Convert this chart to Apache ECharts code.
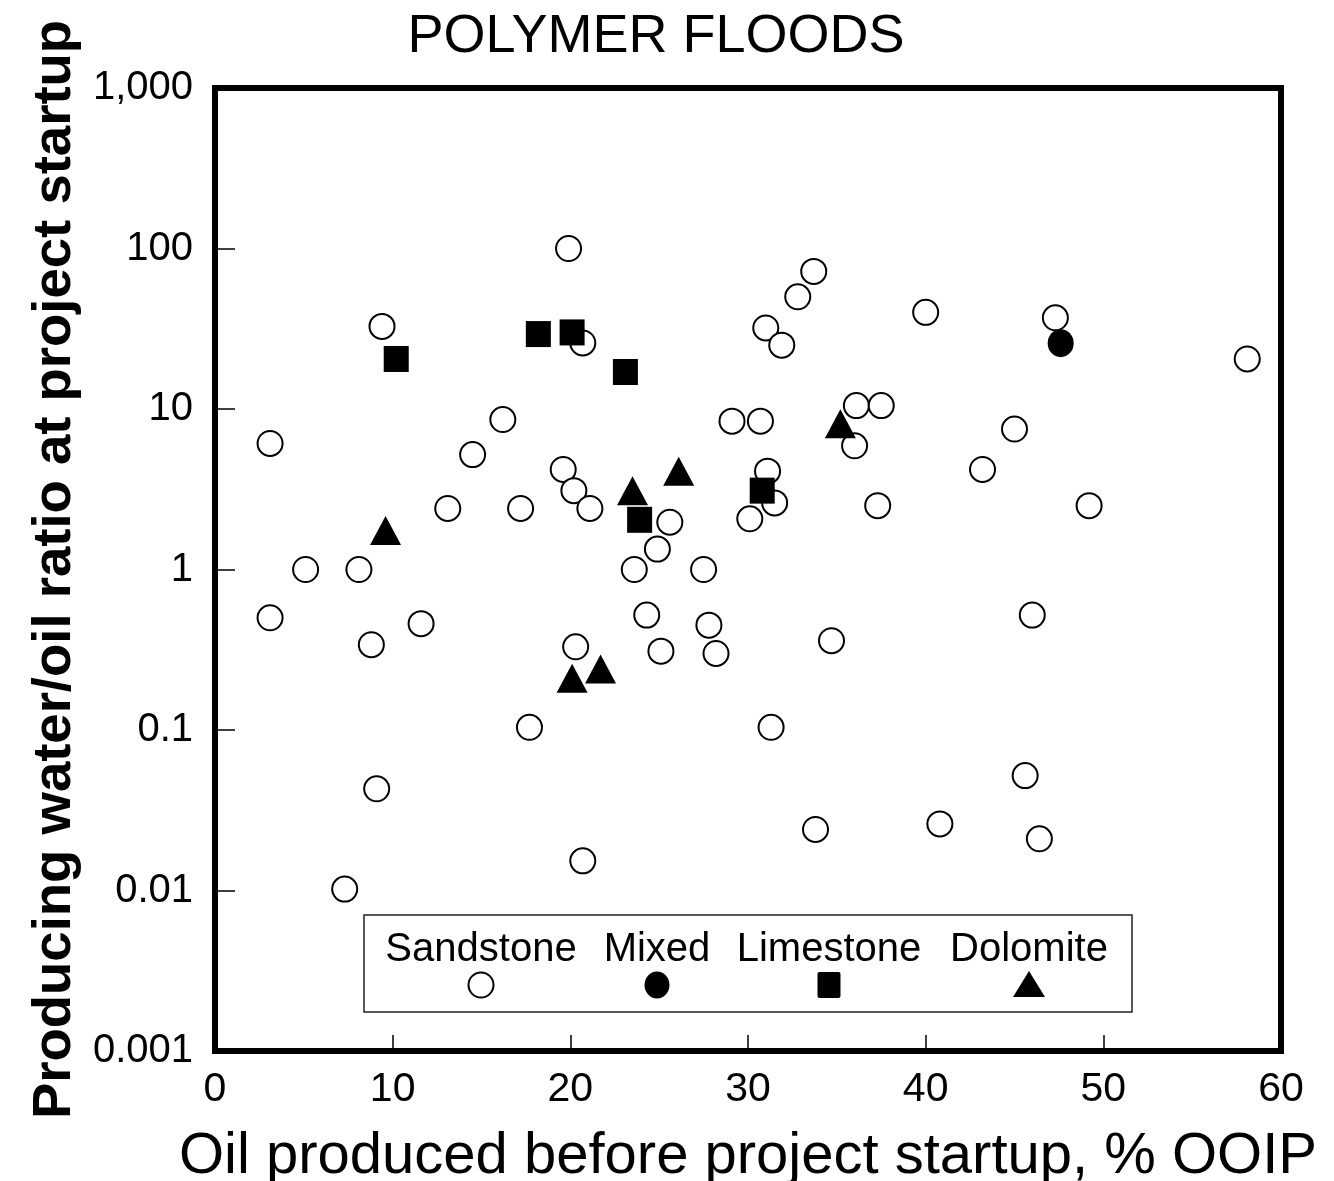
<!DOCTYPE html>
<html>
<head>
<meta charset="utf-8">
<title>Polymer Floods</title>
<script src="https://cdn.jsdelivr.net/npm/echarts@6/dist/echarts.min.js"></script>
<style>
  html, body { margin: 0; padding: 0; background: #fff; }
  #chart { width: 1334px; height: 1181px; }
</style>
</head>
<body>
<div id="chart"></div>
<script>
// Oil produced before project startup (% OOIP) vs. producing water/oil ratio at startup
const sandstoneX = [19.9, 9.4, 20.7, 3.1, 16.2, 14.5, 19.6, 20.2, 13.1, 17.2, 21.1, 25.6, 24.9,
  5.1, 8.1, 23.6, 27.5, 3.1, 11.6, 8.8, 24.3, 27.8, 20.3, 25.1, 28.2,
  33.7, 32.8, 31.0, 31.9, 40.0, 47.3, 58.1, 29.1, 30.7, 36.1, 37.5, 36.0, 45.0, 43.2,
  31.1, 31.5, 30.1, 37.3, 49.2, 46.0, 34.7,
  17.7, 31.3, 9.1, 45.6, 33.8, 40.8, 46.4, 20.7, 7.3];
const sandstoneY = [100, 32.7, 25.8, 6.1, 8.6, 5.2, 4.2, 3.1, 2.4, 2.4, 2.4, 1.97, 1.34,
  1.0, 1.0, 1.0, 1.0, 0.50, 0.46, 0.34, 0.52, 0.45, 0.33, 0.31, 0.30,
  72, 50, 32, 25, 40, 37, 20.5, 8.4, 8.4, 10.5, 10.5, 5.9, 7.5, 4.2,
  4.1, 2.6, 2.07, 2.5, 2.5, 0.52, 0.36,
  0.104, 0.104, 0.043, 0.052, 0.024, 0.026, 0.021, 0.0153, 0.0102];

const mixedX = [47.6];
const mixedY = [25.7];

const limestoneX = [10.2, 18.2, 20.1, 23.1, 23.9, 30.8];
const limestoneY = [20.5, 29.3, 30, 17, 2.04, 3.1];

const dolomiteX = [9.6, 23.5, 26.1, 35.2, 20.1, 21.7];
const dolomiteY = [1.75, 3.1, 4.1, 8.1, 0.21, 0.24];

const xTicks = [0, 10, 20, 30, 40, 50, 60];
const yTickLabels = { 1000: '1,000', 100: '100', 10: '10', 1: '1', 0.1: '0.1', 0.01: '0.01', 0.001: '0.001' };

const FONT = '"Liberation Sans", Arial, Helvetica, sans-serif';
const zip = (xs, ys) => xs.map((x, i) => [x, ys[i]]);

const chart = echarts.init(document.getElementById('chart'), null, { renderer: 'canvas' });

const legendItems = [
  { name: 'Sandstone', x: 481 },
  { name: 'Mixed', x: 657 },
  { name: 'Limestone', x: 829 },
  { name: 'Dolomite', x: 1029 }
];

const graphics = [
  { type: 'rect', shape: { x: 364, y: 915, width: 768, height: 97 },
    style: { fill: '#fff', stroke: '#222', lineWidth: 1.5 }, z: 100 }
];
legendItems.forEach(it => {
  graphics.push({ type: 'text', z: 101,
    style: { text: it.name, x: it.x, y: 950, font: '40px ' + FONT, fill: '#000',
      textAlign: 'center', textVerticalAlign: 'middle' } });
});
graphics.push({ type: 'circle', z: 101, shape: { cx: 481, cy: 985, r: 12.5 },
  style: { fill: '#fff', stroke: '#000', lineWidth: 2 } });
graphics.push({ type: 'ellipse', z: 101, shape: { cx: 657, cy: 985, rx: 12.5, ry: 13.5 },
  style: { fill: '#000' } });
graphics.push({ type: 'rect', z: 101, shape: { x: 817.5, y: 972, width: 23, height: 26, r: 2 },
  style: { fill: '#000' } });
graphics.push({ type: 'polygon', z: 101, shape: { points: [[1029, 971], [1045, 997], [1013, 997]] },
  style: { fill: '#000' } });

chart.setOption({
  backgroundColor: '#fff',
  animation: false,
  title: {
    text: 'POLYMER FLOODS',
    left: 651, top: 5, textAlign: 'center',
    textStyle: { fontFamily: FONT, fontSize: 54, fontWeight: 'normal', color: '#000' }
  },
  grid: {
    left: 215, right: 53, top: 88, bottom: 130,
    outerBoundsMode: 'none', containLabel: false,
    show: true, borderColor: '#000', borderWidth: 6, backgroundColor: 'transparent'
  },
  xAxis: {
    type: 'value', min: 0, max: 60, interval: 10,
    name: 'Oil produced before project startup, % OOIP',
    nameLocation: 'middle', nameGap: 77,
    nameTextStyle: { fontFamily: FONT, fontSize: 58, color: '#000' },
    axisLine: { onZero: false, lineStyle: { color: '#000', width: 6 } },
    axisTick: { inside: true, length: 16, lineStyle: { color: '#000', width: 1.5 } },
    axisLabel: { margin: 18, fontFamily: FONT, fontSize: 41, color: '#000',
      formatter: v => (xTicks.includes(v) ? String(v) : '') },
    splitLine: { show: false }
  },
  yAxis: {
    type: 'log', logBase: 10, min: 0.001, max: 1000,
    name: 'Producing water/oil ratio at project startup',
    nameLocation: 'middle', nameGap: 133,
    nameTextStyle: { fontFamily: FONT, fontSize: 54.5, fontWeight: 'bold', color: '#000' },
    axisLine: { lineStyle: { color: '#000', width: 6 } },
    axisTick: { inside: true, length: 20, lineStyle: { color: '#000', width: 1.5 } },
    axisLabel: { margin: 22, fontFamily: FONT, fontSize: 40, color: '#000',
      formatter: v => {
        const key = Number(Number(v).toPrecision(6));
        return yTickLabels[key] !== undefined ? yTickLabels[key] : '';
      } },
    splitLine: { show: false },
    minorTick: { show: false }
  },
  series: [
    { name: 'Sandstone', type: 'scatter', data: zip(sandstoneX, sandstoneY),
      symbol: 'circle', symbolSize: 25, z: 2,
      itemStyle: { color: '#fff', borderColor: '#000', borderWidth: 2, opacity: 1 } },
    { name: 'Mixed', type: 'scatter', data: zip(mixedX, mixedY),
      symbol: 'circle', symbolSize: [26, 28], z: 3,
      itemStyle: { color: '#000', opacity: 1 } },
    { name: 'Limestone', type: 'scatter', data: zip(limestoneX, limestoneY),
      symbol: 'rect', symbolSize: [25, 26], z: 3,
      itemStyle: { color: '#000', opacity: 1 } },
    { name: 'Dolomite', type: 'scatter', data: zip(dolomiteX, dolomiteY),
      symbol: 'triangle', symbolSize: [31, 29], z: 3,
      itemStyle: { color: '#000', opacity: 1 } }
  ],
  graphic: graphics
});
</script>
</body>
</html>
